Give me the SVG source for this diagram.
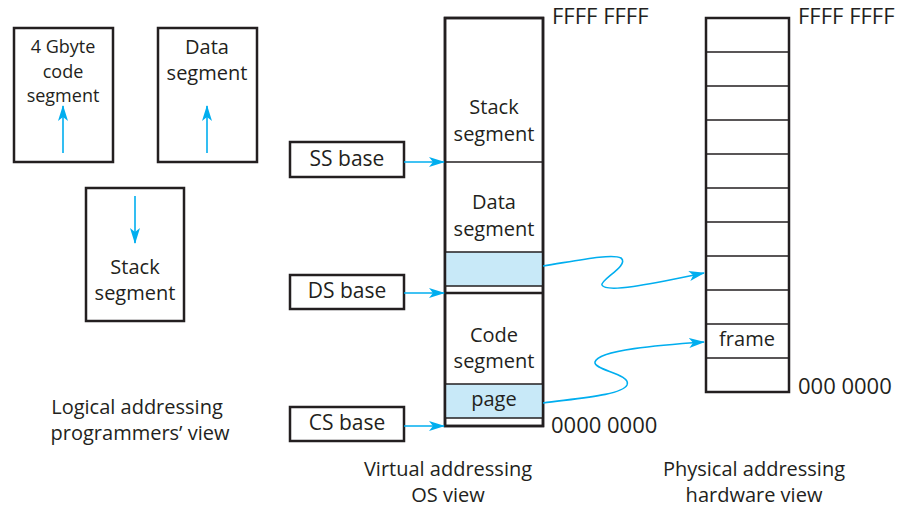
<svg xmlns="http://www.w3.org/2000/svg" width="907" height="509" viewBox="0 0 907 509">
<style>
text{font-family:"Open Sans","Noto Sans",sans-serif;font-size:20px;fill:#231f20;text-anchor:middle}
.addr{font-size:22px;text-anchor:start}
.base{font-size:21px}
.sm{font-size:18px}
.box{fill:#fff;stroke:#231f20;stroke-width:2.5}
.thin{stroke:#231f20;stroke-width:1.5;fill:none}
.con{stroke:#00aeef;stroke-width:1.6;fill:none}
.lb{fill:#c8e9f8;stroke:#231f20;stroke-width:1.5}
</style>
<defs>
<marker id="ah" markerWidth="16" markerHeight="10" refX="15" refY="5" orient="auto" markerUnits="userSpaceOnUse">
<path d="M0,0 L16,5 L0,10 L4,5 Z" fill="#00aeef"/>
</marker>
</defs>
<rect width="907" height="509" fill="#fff"/>

<g id="code-seg">
<rect class="box" x="14" y="28" width="99" height="134"/>
<text class="sm" x="63" y="53">4 Gbyte</text>
<text class="sm" x="63" y="77.5">code</text>
<text class="sm" x="63" y="102">segment</text>
</g>
<g id="data-seg">
<rect class="box" x="158" y="28" width="99" height="134"/>
<text x="207" y="54">Data</text>
<text x="207" y="80">segment</text>
</g>
<g id="stack-seg">
<rect class="box" x="86" y="188" width="98" height="133"/>
<text x="135" y="274">Stack</text>
<text x="135" y="300">segment</text>
</g>
<g id="logical-label">
<text x="137" y="414">Logical addressing</text>
<text x="140" y="440">programmers’ view</text>
</g>

<g id="ss-base"><rect class="box" x="290" y="142" width="114" height="35"/><text class="base" x="347" y="166">SS base</text></g>
<g id="ds-base"><rect class="box" x="290" y="275" width="114" height="34"/><text class="base" x="347" y="298">DS base</text></g>
<g id="cs-base"><rect class="box" x="290" y="407" width="114" height="34"/><text class="base" x="347" y="430">CS base</text></g>

<g id="virtual">
<rect class="box" x="445" y="18" width="98" height="408"/>
<rect class="lb" x="445" y="252" width="98" height="34"/>
<rect class="lb" x="445" y="384" width="98" height="34"/>
<line class="thin" x1="445" y1="162" x2="543" y2="162"/>
<line x1="445" y1="293" x2="543" y2="293" stroke="#231f20" stroke-width="2.5"/>
<rect x="445" y="18" width="98" height="408" fill="none" stroke="#231f20" stroke-width="2.5"/>
<text x="494" y="114">Stack</text>
<text x="494" y="141">segment</text>
<text x="494" y="209">Data</text>
<text x="494" y="236">segment</text>
<text x="494" y="342">Code</text>
<text x="494" y="368">segment</text>
<text x="494" y="406">page</text>
<text class="addr" x="552" y="24">FFFF FFFF</text>
<text class="addr" x="551" y="433">0000 0000</text>
</g>
<g id="virtual-label">
<text x="448" y="476">Virtual addressing</text>
<text x="448" y="502">OS view</text>
</g>

<g id="physical">
<rect class="box" x="706" y="18" width="83" height="374"/>
<path class="thin" d="M706 52H789M706 86H789M706 120H789M706 154H789M706 188H789M706 222H789M706 256H789M706 290H789M706 324H789M706 358H789"/>
<text x="747" y="346">frame</text>
<text class="addr" x="798" y="24">FFFF FFFF</text>
<text class="addr" x="798" y="394">000 0000</text>
</g>
<g id="physical-label">
<text x="754" y="476">Physical addressing</text>
<text x="754" y="502">hardware view</text>
</g>

<g id="connectors">
<line class="con" x1="63" y1="153" x2="63" y2="106" marker-end="url(#ah)"/>
<line class="con" x1="207" y1="153" x2="207" y2="106" marker-end="url(#ah)"/>
<line class="con" x1="135" y1="196" x2="135" y2="243" marker-end="url(#ah)"/>
<line class="con" x1="404" y1="162" x2="444" y2="162" marker-end="url(#ah)"/>
<line class="con" x1="404" y1="293" x2="444" y2="293" marker-end="url(#ah)"/>
<line class="con" x1="404" y1="426" x2="444" y2="426" marker-end="url(#ah)"/>
<path class="con" d="M543 266 C575 261 612 253 621 258 C630 265 600 280 602 285 C606 294 660 282 704 273" marker-end="url(#ah)"/>
<path class="con" d="M543 403 C580 398 622 395 627 385 C632 374 593 370 595 362 C598 350 660 345 704 342" marker-end="url(#ah)"/>
</g>
</svg>
